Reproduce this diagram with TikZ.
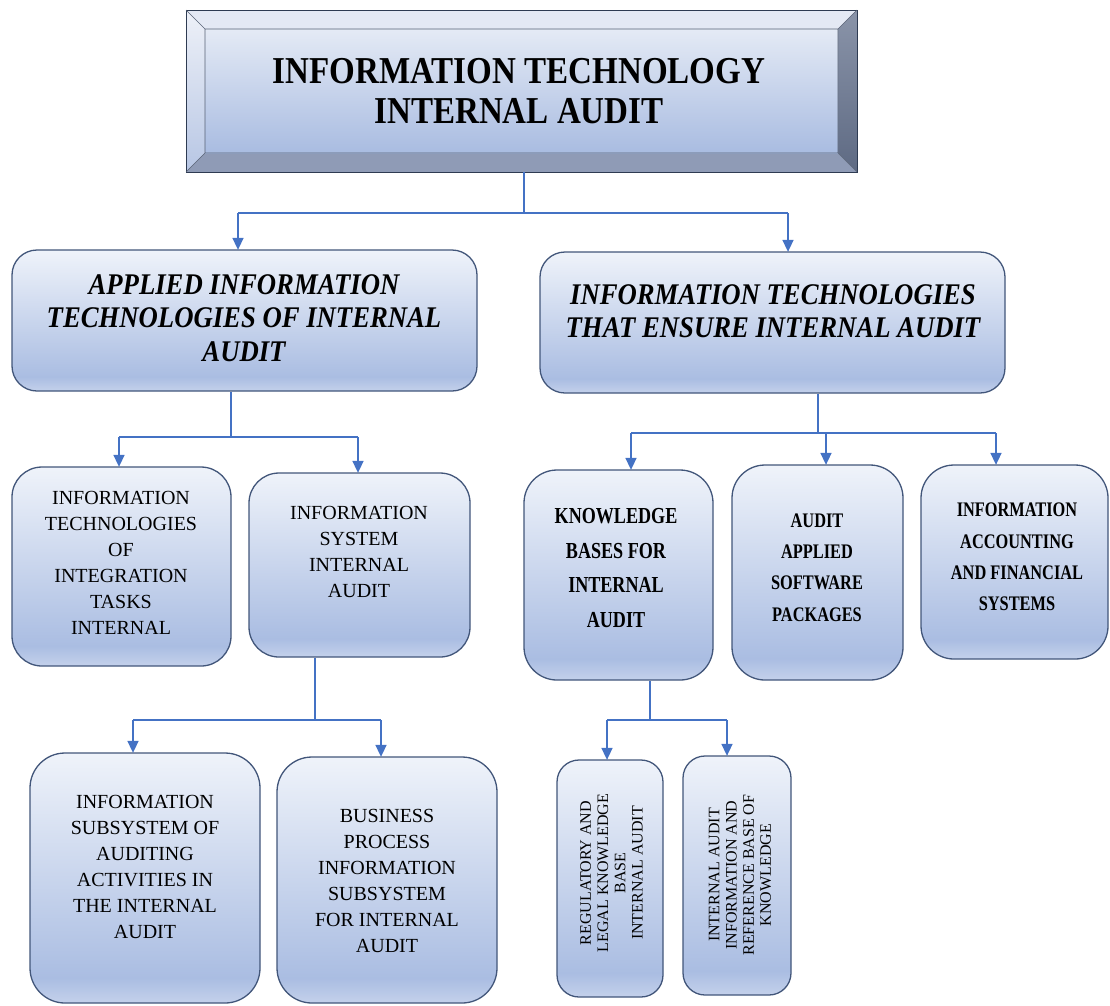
\documentclass[tikz,border=0pt]{standalone}
\usepackage{fontspec}
\setmainfont{Liberation Serif}
\newfontfamily\titlefont[FakeStretch=0.87]{Liberation Serif}
\newfontfamily\italfont[FakeStretch=0.89]{Liberation Serif}
\newfontfamily\condfont[FakeStretch=0.79]{Liberation Serif}
\usetikzlibrary{arrows.meta}
\definecolor{shTop}{HTML}{EFF3FA}
\definecolor{shMid}{HTML}{AABDE2}
\definecolor{shBot}{HTML}{C4D1EB}
\definecolor{edge}{HTML}{42567A}
\definecolor{conn}{HTML}{4472C4}
\definecolor{bvTop}{HTML}{E4E9F4}
\definecolor{bvLeftT}{HTML}{EEF1F8}
\definecolor{bvLeftB}{HTML}{B7C6E4}
\definecolor{bvRightT}{HTML}{8A94A9}
\definecolor{bvRightB}{HTML}{5E6A83}
\definecolor{bvBot}{HTML}{8F9BB6}
\definecolor{inTop}{HTML}{E4EAF5}
\definecolor{inBot}{HTML}{A9BCE1}
\definecolor{outer}{HTML}{2E3B52}
\pgfdeclareverticalshading{boxshade}{100bp}{color(0bp)=(shBot); color(25bp)=(shBot); color(30bp)=(shMid); color(75bp)=(shTop); color(100bp)=(shTop)}
\tikzset{
  rbox/.style={draw=edge, line width=1.3pt, shading=boxshade, rounded corners=#1, inner sep=0pt},
  rbox/.default=25pt,
  line/.style={draw=conn, line width=1.6pt},
  arr/.style={draw=conn, line width=1.6pt, -{Triangle[width=11pt,length=12pt]}, shorten >=-0.5pt},
  txt/.style={align=center, inner sep=0pt, text=black},
  ctitle/.style={txt, font=\titlefont\bfseries\fontsize{38}{40}\selectfont},
  citalic/.style={txt, font=\italfont\bfseries\itshape\fontsize{30}{33.5}\selectfont},
  cplain/.style={txt, font=\fontsize{20}{26}\selectfont},
  cbold/.style={txt, font=\condfont\bfseries\fontsize{22.9}{34.7}\selectfont},
  cboldsm/.style={txt, font=\condfont\bfseries\fontsize{20.7}{31.2}\selectfont},
  crot/.style={txt, rotate=90, font=\fontsize{16}{17.2}\selectfont},
}
\begin{document}
\begin{tikzpicture}[x=1pt,y=-1pt]
\useasboundingbox (0,0) rectangle (1110,1005);
% ---- title box with bevel
\node[minimum width=671pt, minimum height=162pt, inner sep=0pt] (T) at (521.5,91) {};
\fill[bvTop] (186,10) -- (857,10) -- (838,29) -- (205,29) -- cycle;
\shade[top color=bvLeftT, bottom color=bvLeftB] (186,10) -- (205,29) -- (205,153) -- (186,172) -- cycle;
\shade[top color=bvRightT, bottom color=bvRightB] (857,10) -- (857,172) -- (838,153) -- (838,29) -- cycle;
\fill[bvBot] (186,172) -- (205,153) -- (838,153) -- (857,172) -- cycle;
\shade[top color=inTop, bottom color=inBot] (205,29) rectangle (838,153);
\draw[outer, line width=0.9pt] (186,10) rectangle (857,172);
\draw[outer!80, line width=0.6pt] (205,29) rectangle (838,153)
  (186,10) -- (205,29) (857,10) -- (838,29) (186,172) -- (205,153) (857,172) -- (838,153);
\node[ctitle] (tT) at (519,91) {INFORMATION TECHNOLOGY\\INTERNAL AUDIT};
% ---- level 1
\node[rbox, minimum width=465pt, minimum height=141pt] (A) at (244.5,320.5) {};
\node[citalic] (tA) at (244,318) {APPLIED INFORMATION\\TECHNOLOGIES OF INTERNAL\\AUDIT};
\node[rbox, minimum width=465pt, minimum height=141pt] (B) at (772.5,322.5) {};
\node[citalic] (tB) at (773,311) {INFORMATION TECHNOLOGIES\\THAT ENSURE INTERNAL AUDIT};
% ---- level 2 left
\node[rbox=30pt, minimum width=219pt, minimum height=199pt] (C1) at (121.5,566.5) {};
\node[cplain] (tC1) at (121,562.5) {INFORMATION\\TECHNOLOGIES\\OF\\INTEGRATION\\TASKS\\INTERNAL};
\node[rbox=30pt, minimum width=221pt, minimum height=184pt] (C2) at (359.5,565) {};
\node[cplain] (tC2) at (359,552) {INFORMATION\\SYSTEM\\INTERNAL\\AUDIT};
% ---- level 3 left
\node[rbox=35pt, minimum width=230pt, minimum height=250pt] (D1) at (145,878) {};
\node[cplain] (tD1) at (145,867) {INFORMATION\\SUBSYSTEM OF\\AUDITING\\ACTIVITIES IN\\THE INTERNAL\\AUDIT};
\node[rbox=35pt, minimum width=220pt, minimum height=246pt] (D2) at (387,880) {};
\node[cplain] (tD2) at (387,881) {BUSINESS\\PROCESS\\INFORMATION\\SUBSYSTEM\\FOR INTERNAL\\AUDIT};
% ---- level 2 right
\node[rbox=33pt, minimum width=189pt, minimum height=210pt] (E1) at (618.5,575) {};
\node[cbold] (tE1) at (616,568) {KNOWLEDGE\\BASES FOR\\INTERNAL\\AUDIT};
\node[rbox=33pt, minimum width=171pt, minimum height=215pt] (E2) at (817.5,572.5) {};
\node[cboldsm] (tE2) at (817,567.5) {AUDIT\\APPLIED\\SOFTWARE\\PACKAGES};
\node[rbox=33pt, minimum width=187pt, minimum height=194pt] (E3) at (1014.5,562) {};
\node[cboldsm] (tE3) at (1017,557) {INFORMATION\\ACCOUNTING\\AND FINANCIAL\\SYSTEMS};
% ---- level 3 right
\node[rbox=22pt, minimum width=106pt, minimum height=237pt] (F1) at (610,878.5) {};
\node[crot] (tF1) at (611.5,873) {REGULATORY AND\\LEGAL KNOWLEDGE\\BASE\\INTERNAL AUDIT};
\node[rbox=22pt, minimum width=108pt, minimum height=239pt] (F2) at (737,875.5) {};
\node[crot] (tF2) at (740,875) {INTERNAL AUDIT\\INFORMATION AND\\REFERENCE BASE OF\\KNOWLEDGE};
% ---- connectors
\coordinate (jT) at (524,213);
\coordinate (jTa) at (238,213);
\coordinate (jTb) at (788,213);
\draw[line] (T.south -| jT) -- (jT);
\draw[line] (jTa) -- (jTb);
\draw[arr] (jTa) -- (jTa |- A.north);
\draw[arr] (jTb) -- (jTb |- B.north);

\coordinate (jA) at (231,437);
\coordinate (jAa) at (119,437);
\coordinate (jAb) at (358,437);
\draw[line] (A.south -| jA) -- (jA);
\draw[line] (jAa) -- (jAb);
\draw[arr] (jAa) -- (jAa |- C1.north);
\draw[arr] (jAb) -- (jAb |- C2.north);

\coordinate (jC) at (315,720);
\coordinate (jCa) at (133,720);
\coordinate (jCb) at (381,720);
\draw[line] (C2.south -| jC) -- (jC);
\draw[line] (jCa) -- (jCb);
\draw[arr] (jCa) -- (jCa |- D1.north);
\draw[arr] (jCb) -- (jCb |- D2.north);

\coordinate (jB) at (818,433);
\coordinate (jBa) at (631,433);
\coordinate (jBb) at (826,433);
\coordinate (jBc) at (996,433);
\draw[line] (B.south -| jB) -- (jB);
\draw[line] (jBa) -- (jBc);
\draw[arr] (jBa) -- (jBa |- E1.north);
\draw[arr] (jBb) -- (jBb |- E2.north);
\draw[arr] (jBc) -- (jBc |- E3.north);

\coordinate (jE) at (650,720);
\coordinate (jEa) at (607,720);
\coordinate (jEb) at (727,720);
\draw[line] (E1.south -| jE) -- (jE);
\draw[line] (jEa) -- (jEb);
\draw[arr] (jEa) -- (jEa |- F1.north);
\draw[arr] (jEb) -- (jEb |- F2.north);
\end{tikzpicture}
\end{document}
